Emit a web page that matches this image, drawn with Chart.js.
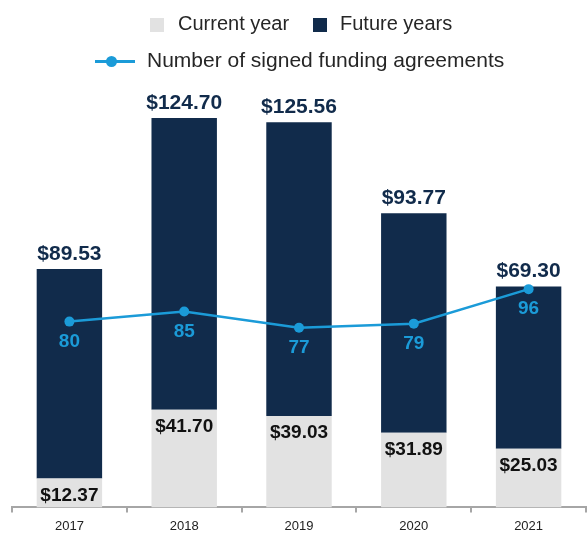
<!DOCTYPE html>
<html>
<head>
<meta charset="utf-8">
<script src="https://cdn.jsdelivr.net/npm/chart.js@4/dist/chart.umd.min.js"></script>
<style>
  html, body { margin: 0; padding: 0; background: #fff; overflow: hidden; }
  #wrap { position: relative; width: 588px; height: 533px; overflow: hidden; }
  #fundingChart { position: absolute; left: 0; top: 0; }
  .legend { position: absolute; font-family: "Liberation Sans", Arial, sans-serif; color: #262626; white-space: nowrap; }
  .legend span { position: absolute; }
  .sw { width: 14px; height: 14px; }
</style>
</head>
<body>
<div id="wrap">
  <canvas id="fundingChart" width="591" height="540"></canvas>
  <div class="legend" style="left:0;top:0;width:588px;height:80px">
    <span class="sw" style="left:150px;top:18px;background:#e2e2e2"></span>
    <span style="left:178px;top:12px;font-size:20px">Current year</span>
    <span class="sw" style="left:313px;top:18px;background:#112b4b"></span>
    <span style="left:340px;top:12px;font-size:20px">Future years</span>
    <span style="left:95px;top:60px;width:40px;height:3px;background:#1b9bd8"></span>
    <span style="left:106px;top:56px;width:11px;height:11px;border-radius:50%;background:#1b9bd8"></span>
    <span style="left:147px;top:48px;font-size:21px">Number of signed funding agreements</span>
  </div>
</div>
<script>
const years = ['2017', '2018', '2019', '2020', '2021']
const currentYear = [12.37, 41.70, 39.03, 31.89, 25.03]
const futureYears = [89.53, 124.70, 125.56, 93.77, 69.30]
const agreements = [80, 85, 77, 79, 96]

const NAVY = '#112b4b'
const GREY = '#e2e2e2'
const BLUE = '#1b9bd8'
const FONT = '"Liberation Sans", Arial, sans-serif'

const money = v => '$' + v.toFixed(2)

// value labels: current year inside the bottom segment, future years above the bar,
// agreement counts just under each point
const valueLabels = {
  id: 'valueLabels',
  afterDatasetsDraw(chart) {
    const ctx = chart.ctx
    ctx.save()
    ctx.textAlign = 'center'
    ctx.textBaseline = 'middle'
    chart.data.datasets.forEach((ds, i) => {
      const meta = chart.getDatasetMeta(i)
      meta.data.forEach((el, j) => {
        const v = ds.data[j]
        if (ds.type === 'line') {
          ctx.font = 'bold 19px ' + FONT
          ctx.fillStyle = BLUE
          ctx.fillText(String(v), el.x, el.y + 20)
        } else if (ds.stack_label === 'current') {
          ctx.font = 'bold 19px ' + FONT
          ctx.fillStyle = '#111111'
          ctx.fillText(money(v), el.x, el.y + 17)
        } else {
          ctx.font = 'bold 21px ' + FONT
          ctx.fillStyle = NAVY
          ctx.fillText(money(v), el.x, el.y - 15)
        }
      })
    })
    ctx.restore()
  }
}

const ctx = document.getElementById('fundingChart').getContext('2d')
new Chart(ctx, {
  data: {
    labels: years,
    datasets: [
      {
        type: 'line',
        label: 'Number of signed funding agreements',
        data: agreements,
        yAxisID: 'y2',
        borderColor: BLUE,
        backgroundColor: BLUE,
        borderWidth: 2.5,
        pointRadius: 5,
        pointBackgroundColor: BLUE,
        pointBorderWidth: 0,
        tension: 0,
        order: 0
      },
      {
        type: 'bar',
        label: 'Current year',
        stack_label: 'current',
        data: currentYear,
        backgroundColor: GREY,
        stack: 's',
        order: 1
      },
      {
        type: 'bar',
        label: 'Future years',
        stack_label: 'future',
        data: futureYears,
        backgroundColor: NAVY,
        stack: 's',
        order: 1
      }
    ]
  },
  options: {
    responsive: false,
    animation: false,
    devicePixelRatio: 1,
    layout: { padding: { left: 12, right: 1, top: 80, bottom: 0 } },
    datasets: {
      bar: { categoryPercentage: 1, barPercentage: 0.57 }
    },
    plugins: {
      legend: { display: false },
      tooltip: { enabled: false }
    },
    scales: {
      x: {
        stacked: true,
        grid: {
          display: true,
          drawOnChartArea: false,
          drawTicks: true,
          tickLength: 5,
          color: '#a6a6a6',
          lineWidth: 2
        },
        border: { display: true, color: '#a6a6a6', width: 2 },
        ticks: {
          padding: 6,
          color: '#222222',
          font: { family: FONT, size: 13 }
        }
      },
      y: {
        stacked: true,
        display: false,
        min: 0,
        max: 182.6
      },
      y2: {
        display: false,
        min: -11.5,
        max: 199
      }
    }
  },
  plugins: [valueLabels]
})
</script>
</body>
</html>
